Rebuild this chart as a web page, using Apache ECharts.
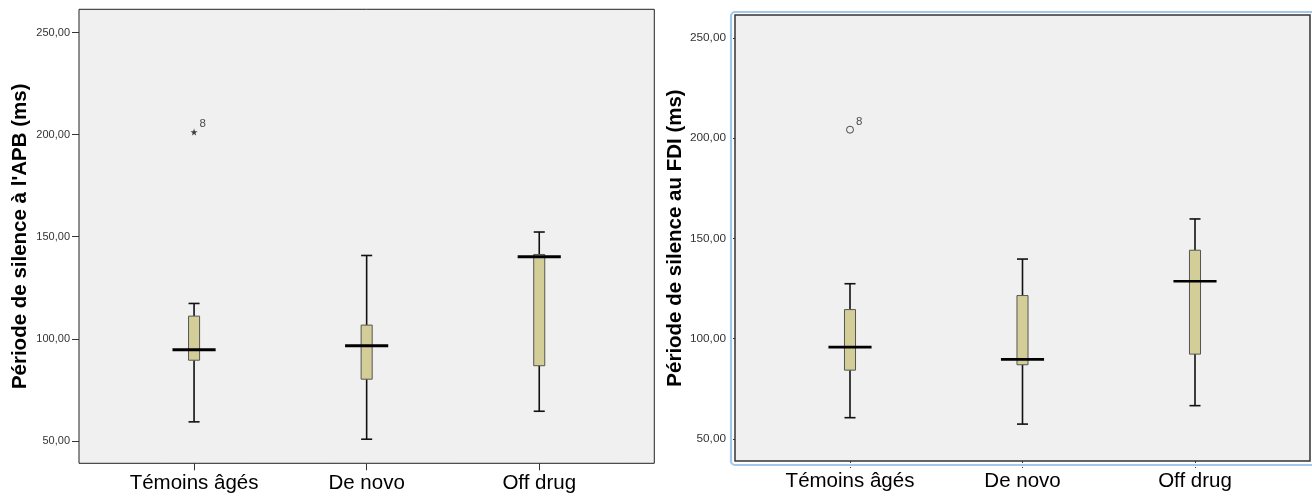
<!DOCTYPE html>
<html>
<head>
<meta charset="utf-8">
<script src="https://cdn.jsdelivr.net/npm/echarts@6/dist/echarts.min.js"></script>
<style>
html,body{margin:0;padding:0;background:#fff;}
#chart{width:1312px;height:497px;}
</style>
</head>
<body>
<div id="chart"></div>
<script>
// ---- data ----
const categories = ['Témoins âgés', 'De novo', 'Off drug'];
const yTicks = [50, 100, 150, 200, 250];

// Left panel: Période de silence à l'APB (ms)
const apbMin    = [59.3, 50.8, 64.5];
const apbQ1     = [89.5, 80.2, 86.8];
const apbMedian = [94.6, 96.6, 140.2];
const apbQ3     = [111.1, 106.7, 141.3];
const apbMax    = [117.3, 140.8, 152.3];
const apbOutlierCategory = [1];
const apbOutlierValue = [201.3];
const apbOutlierLabel = ['8'];

// Right panel: Période de silence au FDI (ms)
const fdiMin    = [60.6, 57.4, 66.6];
const fdiQ1     = [84.3, 87.0, 92.3];
const fdiMedian = [95.8, 89.7, 128.6];
const fdiQ3     = [114.5, 121.5, 144.1];
const fdiMax    = [127.4, 139.7, 159.7];
const fdiOutlierCategory = [1];
const fdiOutlierValue = [204.2];
const fdiOutlierLabel = ['8'];

// ---- build ----
function boxData(mn, q1, md, q3, mx) {
  return categories.map((c, i) => [i + 1, mn[i], q1[i], md[i], q3[i], mx[i]]);
}
function outlierData(cat, val, lab) {
  return cat.map((c, i) => ({ value: [c, val[i]], name: lab[i] }));
}

const BOX_FILL = '#d3ce97';
function makeRender(medianWidth) {
  return function (params, api) {
    const x = api.value(0);
    const lo = api.coord([x, api.value(1)]);
    const q1 = api.coord([x, api.value(2)]);
    const md = api.coord([x, api.value(3)]);
    const q3 = api.coord([x, api.value(4)]);
    const hi = api.coord([x, api.value(5)]);
    const unit = api.size([1, 0])[0];
    const bw = unit * 0.064;
    const mw = unit * 0.25;
    const cx = lo[0];
    const wStyle = { stroke: '#111', lineWidth: 1.6 };
    return {
      type: 'group',
      children: [
        { type: 'line', shape: { x1: cx, y1: lo[1], x2: cx, y2: q1[1] }, style: wStyle },
        { type: 'line', shape: { x1: cx, y1: q3[1], x2: cx, y2: hi[1] }, style: wStyle },
        { type: 'line', shape: { x1: cx - bw / 2, y1: lo[1], x2: cx + bw / 2, y2: lo[1] }, style: wStyle },
        { type: 'line', shape: { x1: cx - bw / 2, y1: hi[1], x2: cx + bw / 2, y2: hi[1] }, style: wStyle },
        { type: 'rect', shape: { x: cx - bw / 2, y: q3[1], width: bw, height: q1[1] - q3[1] },
          style: { fill: BOX_FILL, stroke: '#555', lineWidth: 1 } },
        { type: 'line', shape: { x1: cx - mw / 2, y1: md[1], x2: cx + mw / 2, y2: md[1] },
          style: { stroke: '#000', lineWidth: medianWidth } }
      ]
    };
  };
}

const FONT = 'Liberation Sans, Arial, sans-serif';
const fmt = v => Number(v).toFixed(2).replace('.', ',');

function xAxisCfg(gridIndex, tickType) {
  return {
    type: 'value', gridIndex: gridIndex, min: 1 / 3, max: 11 / 3,
    splitLine: { show: false },
    axisLine: { show: false },
    axisTick: { show: true, length: 7, customValues: [1, 2, 3], lineStyle: { color: '#333', type: tickType } },
    axisLabel: { customValues: [1, 2, 3], margin: 10, fontSize: 20.5, color: '#000', fontFamily: FONT,
      formatter: v => categories[Math.round(v) - 1] }
  };
}
function yAxisCfg(gridIndex, name, fs, tickLen, tickType) {
  return {
    type: 'value', gridIndex: gridIndex, min: 39, max: 261.4,
    name: name, nameLocation: 'middle', nameGap: 48,
    nameTextStyle: { fontSize: 20.5, fontWeight: 'bold', color: '#000', fontFamily: FONT },
    splitLine: { show: false },
    axisLine: { show: false },
    axisTick: { show: true, length: tickLen, customValues: yTicks, lineStyle: { color: '#333', type: tickType } },
    axisLabel: { customValues: yTicks, margin: 9, fontSize: fs, color: '#333', fontFamily: FONT, formatter: fmt }
  };
}

const starPath = 'path://M50,0 L61.8,35.1 L98.1,35.1 L68.8,56.8 L79.4,90.5 L50,70 L20.6,90.5 L31.2,56.8 L1.9,35.1 L38.2,35.1 Z';

const option = {
  backgroundColor: '#fff',
  animation: false,
  grid: [
    { left: 79, top: 9.3, width: 575.3, height: 454, show: true, backgroundColor: '#f0f0f0', borderColor: '#222', borderWidth: 1 },
    { left: 735, top: 15, width: 575, height: 446, show: true, backgroundColor: '#f0f0f0', borderColor: '#333', borderWidth: 1.5 }
  ],
  xAxis: [xAxisCfg(0, 'solid'), xAxisCfg(1, [2, 1])],
  yAxis: [
    yAxisCfg(0, "Période de silence à l'APB (ms)", 11, 7, 'solid'),
    yAxisCfg(1, 'Période de silence au FDI (ms)', 11.8, 6, [2, 1])
  ],
  graphic: [
    { type: 'rect', shape: { x: 731, y: 12, width: 600, height: 453, r: 4 },
      style: { fill: 'none', stroke: '#a4c8ec', lineWidth: 2.2 }, z: 100, silent: true }
  ],
  series: [
    { type: 'custom', xAxisIndex: 0, yAxisIndex: 0, renderItem: makeRender(3),
      encode: { x: 0, y: [1, 2, 3, 4, 5] }, data: boxData(apbMin, apbQ1, apbMedian, apbQ3, apbMax) },
    { type: 'custom', xAxisIndex: 1, yAxisIndex: 1, renderItem: makeRender(2.6),
      encode: { x: 0, y: [1, 2, 3, 4, 5] }, data: boxData(fdiMin, fdiQ1, fdiMedian, fdiQ3, fdiMax) },
    { type: 'scatter', xAxisIndex: 0, yAxisIndex: 0, symbol: starPath, symbolSize: 7,
      itemStyle: { color: '#111' },
      label: { show: true, position: 'right', distance: 2, offset: [0, -8], formatter: p => p.name,
        fontSize: 11.5, color: '#222', fontFamily: FONT },
      data: outlierData(apbOutlierCategory, apbOutlierValue, apbOutlierLabel) },
    { type: 'scatter', xAxisIndex: 1, yAxisIndex: 1, symbol: 'circle', symbolSize: 7,
      itemStyle: { color: 'rgba(0,0,0,0)', borderColor: '#222', borderWidth: 1 },
      label: { show: true, position: 'right', distance: 2, offset: [0, -8], formatter: p => p.name,
        fontSize: 11.5, color: '#222', fontFamily: FONT },
      data: outlierData(fdiOutlierCategory, fdiOutlierValue, fdiOutlierLabel) }
  ]
};

const chart = echarts.init(document.getElementById('chart'), null, { renderer: 'canvas' });
chart.setOption(option);
</script>
</body>
</html>
